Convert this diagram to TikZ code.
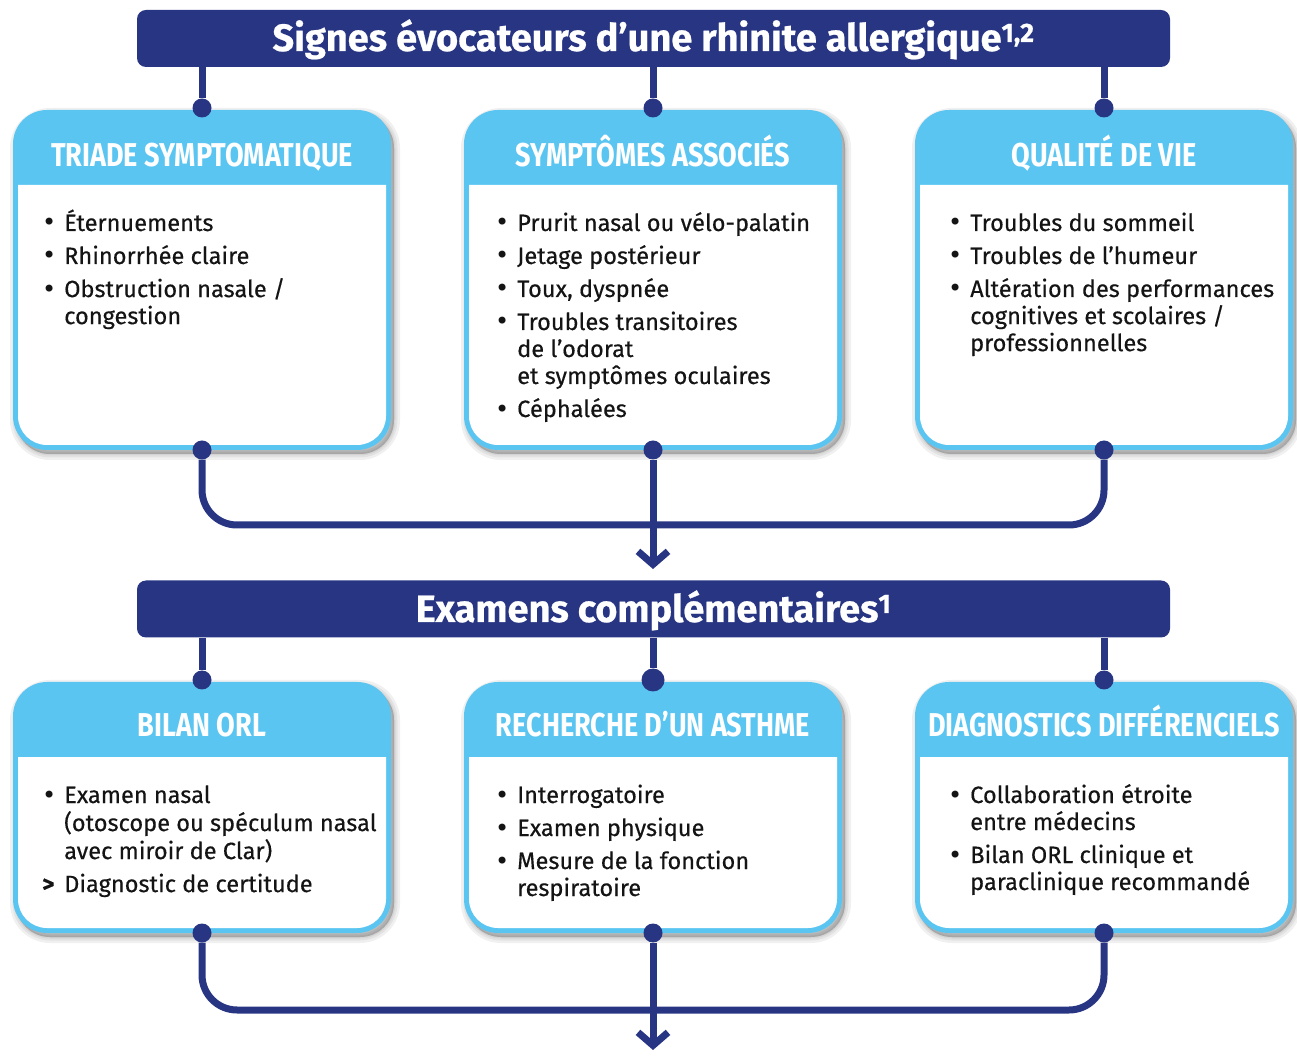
\documentclass[tikz,border=0pt]{standalone}
\usepackage{fontspec}
\setmainfont{Fira Sans}[FakeBold=0.35]
\newfontfamily\headfont{Fira Sans}[FakeStretch=0.82]
\newfontfamily\titlefont{Fira Sans}[FakeBold=0.6]
\newfontfamily\bulletfont{DejaVu Sans}
\usetikzlibrary{arrows.meta}
\definecolor{navy}{RGB}{40,53,131}
\definecolor{sky}{RGB}{91,197,242}
\definecolor{ink}{RGB}{20,20,20}
\newcommand\bul{\makebox[22pt][l]{\bulletfont\fontsize{24}{27}\selectfont•}}
\newcommand\gtr{\makebox[22pt][l]{\bfseries >}}
\newcommand\ind{\hspace*{22pt}}
\newcommand\bodyfill[4]{%
  \fill[white] (#1,#3) -- (#1,{#4+29}) arc[start angle=180,end angle=270,radius=29pt]
    -- ({#2-29},#4) arc[start angle=270,end angle=360,radius=29pt] -- (#2,#3) -- cycle;}
\tikzset{
  titlebar/.style={fill=navy, rounded corners=9pt, minimum width=1033pt, minimum height=57pt, inner sep=0pt},
  titletext/.style={text=white, inner sep=0pt, anchor=base, font=\titlefont\bfseries\fontsize{38}{42}\selectfont},
  shadowlayer/.style={preaction={fill=black, draw=black, line width=#1, opacity=0.06,
      transform canvas={shift={(3pt,-4pt)}}}},
  boxframe/.style={fill=sky, rounded corners=34pt, inner sep=0pt, minimum width=378pt,
    shadowlayer=12pt, shadowlayer=7pt, shadowlayer=3pt, shadowlayer=0.1pt},
  headtext/.style={text=white, inner sep=0pt, anchor=base, font=\headfont\bfseries\fontsize{33}{36}\selectfont},
  bodytext/.style={anchor=base west, inner sep=0pt, text=ink, font=\fontsize{23.6}{27}\selectfont},
  link/.style={draw=navy, line width=7pt},
  dot/.style={circle, fill=navy, minimum size=19pt, inner sep=0pt},
  tip/.style={-{Straight Barb[length=13pt,width=30pt]}}
}
\begin{document}
\begin{tikzpicture}[x=1pt,y=1pt]
\useasboundingbox (0,0) rectangle (1297,1055);
% ---------- row 1 boxes
\node[boxframe, minimum height=340pt] (b1) at (202,775) {};
\node[boxframe, minimum height=340pt] (b2) at (653,775) {};
\node[boxframe, minimum height=340pt] (b3) at (1104,775) {};
\bodyfill{18}{386}{870}{610}
\bodyfill{469}{837}{870}{610}
\bodyfill{920}{1288}{870}{610}
\node[headtext] (h1) at (202,888) {TRIADE SYMPTOMATIQUE};
\node[headtext] (h2) at (653,888) {SYMPTÔMES ASSOCIÉS};
\node[headtext] (h3) at (1104,888) {QUALITÉ DE VIE};
\node[bodytext] (t1) at (42,824) {\begin{tabular}[t]{@{}l@{}}\bul Éternuements\\[6pt]\bul Rhinorrhée claire\\[6pt]\bul Obstruction nasale /\\\ind congestion\end{tabular}};
\node[bodytext] (t2) at (495,824) {\begin{tabular}[t]{@{}l@{}}\bul Prurit nasal ou vélo-palatin\\[6pt]\bul Jetage postérieur\\[6pt]\bul Toux, dyspnée\\[6pt]\bul Troubles transitoires\\\ind de l’odorat\\\ind et symptômes oculaires\\[6pt]\bul Céphalées\end{tabular}};
\node[bodytext] (t3) at (948,824) {\begin{tabular}[t]{@{}l@{}}\bul Troubles du sommeil\\[6pt]\bul Troubles de l’humeur\\[6pt]\bul Altération des performances\\\ind cognitives et scolaires /\\\ind professionnelles\end{tabular}};
% ---------- row 2 boxes
\node[boxframe, minimum height=251pt] (b4) at (202,247.5) {};
\node[boxframe, minimum height=251pt] (b5) at (653,247.5) {};
\node[boxframe, minimum height=251pt] (b6) at (1104,247.5) {};
\bodyfill{18}{386}{298}{127}
\bodyfill{469}{837}{298}{127}
\bodyfill{920}{1288}{298}{127}
\node[headtext] (h4) at (202,318) {BILAN ORL};
\node[headtext] (h5) at (653,318) {RECHERCHE D’UN ASTHME};
\node[headtext] (h6) at (1104,318) {DIAGNOSTICS DIFFÉRENCIELS};
\node[bodytext] (t4) at (42,252) {\begin{tabular}[t]{@{}l@{}}\bul Examen nasal\\\ind (otoscope ou spéculum nasal\\\ind avec miroir de Clar)\\[6pt]\gtr Diagnostic de certitude\end{tabular}};
\node[bodytext] (t5) at (495,252) {\begin{tabular}[t]{@{}l@{}}\bul Interrogatoire\\[6pt]\bul Examen physique\\[6pt]\bul Mesure de la fonction\\\ind respiratoire\end{tabular}};
\node[bodytext] (t6) at (948,252) {\begin{tabular}[t]{@{}l@{}}\bul Collaboration étroite\\\ind entre médecins\\[6pt]\bul Bilan ORL clinique et\\\ind paraclinique recommandé\end{tabular}};
% ---------- title bars
\node[titlebar] (T1) at (653.5,1016.5) {};
\node[titletext] (tt1) at (653.5,1004) {Signes évocateurs d’une rhinite allergique\textsuperscript{1,2}};
\node[titlebar] (T2) at (653.5,446) {};
\node[titletext] (tt2) at (653.5,433) {Examens complémentaires\textsuperscript{1}};
% ---------- dots
\node[dot] (d1t) at (202,947) {};
\node[dot] (d2t) at (653,947) {};
\node[dot] (d3t) at (1104,947) {};
\node[dot] (d1b) at (202,605) {};
\node[dot] (d2b) at (653,605) {};
\node[dot] (d3b) at (1104,605) {};
\node[dot] (d4t) at (202,375) {};
\node[dot, minimum size=23pt] (d5t) at (653,375) {};
\node[dot] (d6t) at (1104,375) {};
\node[dot] (d4b) at (202,122) {};
\node[dot] (d5b) at (653,122) {};
\node[dot] (d6b) at (1104,122) {};
\coordinate (J1) at (653,530);
\coordinate (A1) at (653,486);
\coordinate (J2) at (653,45);
\coordinate (A2) at (653,5);
% ---------- connectors
\draw[link] (T1.south -| d1t) -- (d1t);
\draw[link] (T1.south -| d2t) -- (d2t);
\draw[link] (T1.south -| d3t) -- (d3t);
\draw[link, rounded corners=35pt] (d1b) -- (d1b |- J1) -- (d3b |- J1) -- (d3b);
\draw[link, tip] (d2b) -- (A1);
\draw[link] (T2.south -| d4t) -- (d4t);
\draw[link] (T2.south -| d5t) -- (d5t);
\draw[link] (T2.south -| d6t) -- (d6t);
\draw[link, rounded corners=35pt] (d4b) -- (d4b |- J2) -- (d6b |- J2) -- (d6b);
\draw[link, tip] (d5b) -- (A2);
\end{tikzpicture}
\end{document}
